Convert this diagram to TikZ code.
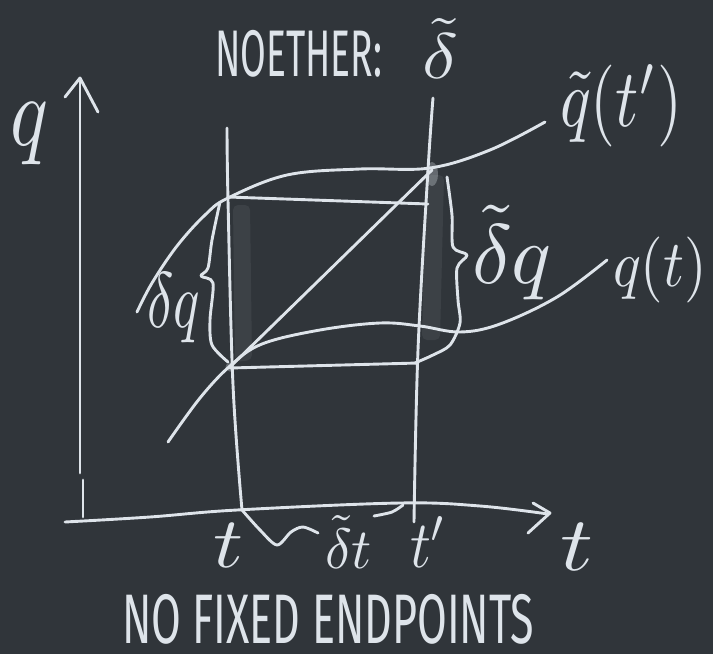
\documentclass[tikz,border=0pt]{standalone}
\usepackage{fontspec}
\setmainfont{Fira Sans}
\usepackage{graphicx}
\definecolor{board}{RGB}{48,53,58}
\definecolor{chalk}{RGB}{222,228,234}
\begin{document}
\begin{tikzpicture}[x=1pt,y=-1pt,
  chalkline/.style={draw=chalk,line width=2.9pt,line cap=round,line join=round},
  lbl/.style={text=chalk,inner sep=0pt,outer sep=0pt,anchor=north west},
  smear/.style={fill=chalk,opacity=0.07,rounded corners=5pt}]
\fill[board] (0,0) rectangle (713,654);
\useasboundingbox (0,0) rectangle (713,654);

% chalk smears along the verticals
\fill[smear] (233,205) -- (250,205) -- (252,360) -- (235,362) -- cycle;
\fill[smear] (426,175) -- (444,175) -- (440,340) -- (422,340) -- cycle;
\fill[chalk,opacity=0.3] (432,174) ellipse (6pt and 12pt);
\fill[chalk,opacity=0.3] (230,367) circle (4.5pt);

% axes
\draw[chalkline] (80,473) -- (80,80);
\draw[chalkline] (65,97) -- (80,78) -- (98,112);
\draw[chalkline] (83,480) -- (83,517);
\draw[chalkline] plot[smooth,tension=0.6] coordinates {(65,522) (150,517) (237,510) (400,503) (480,506) (548,514)};
\draw[chalkline] (533,503) -- (550,513) -- (528,533);

% verticals at t and t'
\draw[chalkline] plot[smooth,tension=0.6] coordinates {(227,128) (228,200) (233,385) (242,510)};
\draw[chalkline] plot[smooth,tension=0.6] coordinates {(433,98) (428,170) (418,350) (414,522)};

% varied path q~
\draw[chalkline] plot[smooth,tension=0.6] coordinates {(137,312) (152,283) (177,246) (205,215) (228,198) (287,175) (360,169) (430,168) (490,150) (545,122)};
% original path q
\draw[chalkline] plot[smooth,tension=0.6] coordinates {(168,442) (200,398) (230,366) (262,344) (320,330) (380,323) (420,326) (460,332) (500,324) (557,297) (607,260)};

% rectangle and diagonal
\draw[chalkline] (228,197) -- (428,204);
\draw[chalkline] (230,368) -- (418,363);
\draw[chalkline] (230,367) -- (432,170);

% braces
\draw[chalkline] plot[smooth,tension=0.5] coordinates {(220,202) (212,240) (208,268) (201,276) (213,283) (210,320) (212,345) (228,362)};
\draw[chalkline] plot[smooth,tension=0.5] coordinates {(447,177) (452,215) (453,247) (467,255) (457,268) (458,300) (460,323) (450,345) (433,355) (415,363)};
\draw[chalkline] plot[smooth,tension=0.5] coordinates {(242,510) (260,530) (277,545) (291,532) (303,527) (318,533)};
\draw[chalkline] plot[smooth,tension=0.5] coordinates {(374,516) (392,512) (403,505)};

% labels
\node[lbl] (title) at (215,30) {\resizebox*{167pt}{47pt}{NOETHER:}};
\node[lbl] (tdelta) at (422,18) {\resizebox*{36pt}{60pt}{$\tilde\delta$}};
\node[lbl] (qaxis) at (10,103) {\resizebox*{38pt}{62pt}{$q$}};
\node[lbl] (tlabel) at (560,523) {\resizebox*{33pt}{47pt}{$t$}};
\node[lbl] (qtilde) at (560,65) {\resizebox*{122pt}{82pt}{$\tilde q(t')$}};
\node[lbl] (qt) at (613,237) {\resizebox*{94pt}{66pt}{$q(t)$}};
\node[lbl] (dtq) at (472,205) {\resizebox*{80pt}{95pt}{$\tilde\delta q$}};
\node[lbl] (dq) at (147,273) {\resizebox*{53pt}{70pt}{$\delta q$}};
\node[lbl] (t1) at (213,523) {\resizebox*{30pt}{44pt}{$t$}};
\node[lbl] (dt) at (325,515) {\resizebox*{47pt}{53pt}{$\tilde\delta t$}};
\node[lbl] (t2) at (410,517) {\resizebox*{37pt}{50pt}{$t'$}};
\node[lbl] (bottom) at (122,594) {\resizebox*{412pt}{50pt}{NO FIXED ENDPOINTS}};
\end{tikzpicture}
\end{document}
